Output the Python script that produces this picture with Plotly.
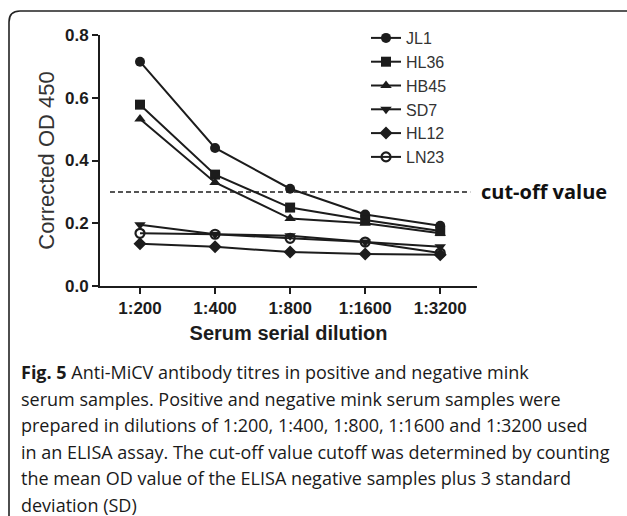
import plotly.graph_objects as go

dilutions = ["1:200", "1:400", "1:800", "1:1600", "1:3200"]
JL1 = [0.715, 0.44, 0.31, 0.228, 0.192]
HL36 = [0.578, 0.355, 0.25, 0.21, 0.175]
HB45 = [0.532, 0.33, 0.215, 0.2, 0.168]
SD7 = [0.195, 0.165, 0.16, 0.14, 0.125]
HL12 = [0.135, 0.125, 0.108, 0.102, 0.1]
LN23 = [0.168, 0.165, 0.152, 0.14, 0.105]
cutoff = 0.3
y_ticks = [0.0, 0.2, 0.4, 0.6, 0.8]

caption_lines = [
    "<b>Fig. 5</b> Anti-MiCV antibody titres in positive and negative mink",
    "serum samples. Positive and negative mink serum samples were",
    "prepared in dilutions of 1:200, 1:400, 1:800, 1:1600 and 1:3200 used",
    "in an ELISA assay. The cut-off value cutoff was determined by counting",
    "the mean OD value of the ELISA negative samples plus 3 standard",
    "deviation (SD)",
]

W, H = 627, 516
L, R, T, B = 100, 477, 35, 286  # plot area in pixels

def px(x):
    return (x - L) / (R - L)

def py(y):
    return (B - y) / (B - T)

INK = "#1c1c1c"
series = [
    ("JL1", JL1, "circle"),
    ("HL36", HL36, "square"),
    ("HB45", HB45, "triangle-up"),
    ("SD7", SD7, "triangle-down"),
    ("HL12", HL12, "diamond"),
    ("LN23", LN23, "circle-open"),
]

fig = go.Figure()
for i, (name, vals, sym) in enumerate(series):
    fig.add_trace(go.Scatter(
        x=dilutions, y=vals, name=name, mode="lines+markers",
        legendgroup=name,
        line=dict(color=INK, width=2),
        marker=dict(symbol=sym, size=10 if "open" not in sym else 9, color=INK,
                    line=dict(color=INK, width=2.2 if "open" in sym else 0)),
    ))

fig.add_shape(type="line", xref="x", yref="y", x0=-0.4, x1=4.4, y0=cutoff, y1=cutoff,
              line=dict(color=INK, width=1.5, dash="5px,3px"))
fig.add_annotation(x=px(479), y=cutoff, xref="paper", yref="y", text="<b>cut-off value</b>",
                   showarrow=False, xanchor="left", yanchor="middle",
                   font=dict(family="Open Sans", size=20, color="#111"))

# frame with rounded top-left corner
path = (f"M {px(9)},{py(520)} L {px(9)},{py(22)} Q {px(9)},{py(11)} {px(20)},{py(11)} "
        f"L {px(630)},{py(11)}")
fig.add_shape(type="path", xref="paper", yref="paper", path=path,
              line=dict(color="#222", width=1.6))

for k, line in enumerate(caption_lines):
    fig.add_annotation(x=px(19), y=py(372 + k * 26.6), xref="paper", yref="paper",
                       text=line, showarrow=False, xanchor="left", yanchor="middle",
                       font=dict(family="Open Sans", size=18, color="#1a1a1a"))

fig.update_layout(
    width=W, height=H,
    margin=dict(l=L, r=W - R, t=T, b=H - B, pad=0),
    paper_bgcolor="white", plot_bgcolor="white",
    showlegend=True,
    legend=dict(x=px(366), y=py(21), xanchor="left", yanchor="top",
                font=dict(family="Liberation Sans", size=16, color="#333"),
                traceorder="grouped", tracegroupgap=0, itemwidth=30,
                bgcolor="rgba(0,0,0,0)"),
    font=dict(family="Liberation Sans", color=INK),
)
fig.update_xaxes(type="category", range=[-0.533, 4.49], showline=True, linecolor=INK, linewidth=2,
                 ticks="outside", ticklen=6, tickwidth=2, tickcolor=INK, showgrid=False,
                 tickfont=dict(family="Liberation Sans", size=17, color=INK, weight="bold"),
                 ticklabelstandoff=0,
                 title=dict(text="<b>Serum serial dilution</b>", standoff=9,
                            font=dict(family="Liberation Sans", size=20, color=INK)))
fig.update_yaxes(range=[0, 0.8], tickvals=y_ticks, tickformat=".1f", showline=True,
                 linecolor=INK, linewidth=2, ticks="outside", ticklen=6, tickwidth=2,
                 tickcolor=INK, showgrid=False, zeroline=False,
                 tickfont=dict(family="Liberation Sans", size=17, color=INK, weight="bold"),
                 title=dict(text="Corrected OD 450", standoff=4,
                            font=dict(family="Liberation Sans", size=22, color="#333")))

fig.write_html("out.html", config={"displayModeBar": False},
               post_script="document.body.style.margin='0px';")
